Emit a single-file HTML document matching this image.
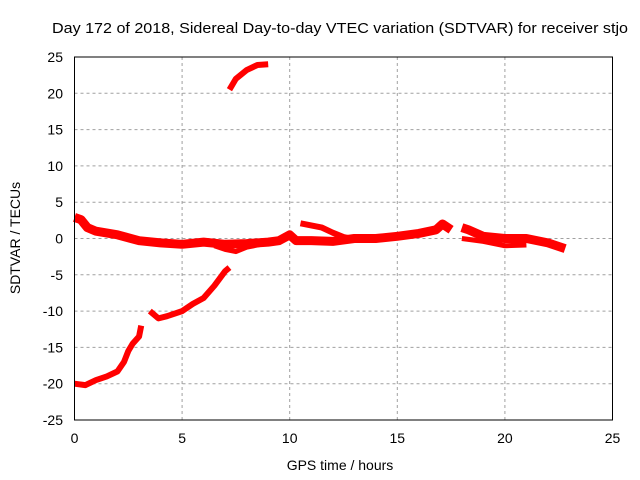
<!DOCTYPE html>
<html><head><meta charset="utf-8"><style>
body{margin:0;background:#fff}
svg{display:block;font-family:"Liberation Sans",sans-serif}
</style></head><body>
<svg id="c" width="640" height="480">
<text x="340" y="33" text-anchor="middle" font-size="15" textLength="576" lengthAdjust="spacingAndGlyphs">Day 172 of 2018, Sidereal Day-to-day VTEC variation (SDTVAR) for receiver stjo</text>
<text x="340" y="470" text-anchor="middle" font-size="14">GPS time / hours</text>
<text transform="translate(20,238) rotate(-90)" text-anchor="middle" font-size="14">SDTVAR / TECUs</text>
<g id="grid"></g><g id="marks"></g><g id="axes"></g>
</svg>
<script>
const xTicks=[0,5,10,15,20,25];
const yTicks=[-25,-20,-15,-10,-5,0,5,10,15,20,25];
const seg1X=[0,0.5,1,1.5,2,2.3,2.5,2.7,3,3.1];
const seg1Y=[-20,-20.2,-19.5,-19,-18.3,-17,-15.5,-14.5,-13.5,-12];
const seg2X=[3.5,3.9,4.3,5,5.5,6,6.5,7,7.2];
const seg2Y=[-10,-11,-10.7,-10,-9,-8.2,-6.5,-4.5,-4];
const seg3X=[7.2,7.5,8,8.5,9];
const seg3Y=[20.5,22,23.2,23.9,24];
const seg4X=[0,0.3,0.6,1,2,3,4,5,6,7,8,9,9.5,10,10.3,11,12,13,14,15,16,16.8,17.1,17.5];
const seg4Y=[2.9,2.6,1.5,1,0.5,-0.3,-0.6,-0.8,-0.5,-0.8,-0.7,-0.5,-0.3,0.5,-0.3,-0.3,-0.4,0,0,0.3,0.7,1.2,2,1.2];
const seg5X=[6.5,7,7.5,8,9];
const seg5Y=[-1,-1.5,-1.8,-1.2,-0.6];
const seg6X=[10.5,11,11.5,12,12.5,13];
const seg6Y=[2.1,1.8,1.5,0.8,0.2,-0.1];
const seg7X=[18,18.3,19,20,21,22,22.8];
const seg7Y=[1.5,1.2,0.3,0,0,-0.6,-1.4];
const seg8X=[18,19,20,21];
const seg8Y=[0,-0.4,-1,-0.9];
const X=v=>74.5+v*(612.5-74.5)/25, Y=v=>238.5-v*7.26;
const NS="http://www.w3.org/2000/svg";
const grid=document.getElementById('grid'),axes=document.getElementById('axes'),marks=document.getElementById('marks');
function mk(tag,at,p){const e=document.createElementNS(NS,tag);for(const k in at)e.setAttribute(k,at[k]);p.appendChild(e);return e;}
xTicks.forEach(t=>{
 if(t>0&&t<25){const g=mk('line',{x1:X(t),x2:X(t),y1:57,y2:420,stroke:'#a0a0a0','stroke-dasharray':'3,3'},grid);
 
 }
 const l=mk('text',{x:X(t),y:443,'text-anchor':'middle','font-size':14},axes);l.textContent=t;
 
 
});
yTicks.forEach(t=>{
 if(t>-25&&t<25){const g=mk('line',{x1:74.5,x2:612.5,y1:Y(t),y2:Y(t),stroke:'#a0a0a0','stroke-dasharray':'3,3'},grid);
 
 }
 const l=mk('text',{x:63,y:Y(t)+5,'text-anchor':'end','font-size':14},axes);l.textContent=t;
 
 
});
const fr=mk('rect',{x:74.5,y:57,width:538,height:363,fill:'none',stroke:'#000','stroke-width':1},axes);


[[seg1X,seg1Y,6],[seg2X,seg2Y,6],[seg3X,seg3Y,6],[seg4X,seg4Y,9],[seg5X,seg5Y,5],[seg6X,seg6Y,6],[seg7X,seg7Y,9],[seg8X,seg8Y,5]].forEach(([xs,ys,w])=>{
 const p=mk('polyline',{points:xs.map((x,i)=>X(x)+','+Y(ys[i])).join(' '),fill:'none',stroke:'#ff0000','stroke-width':w,'stroke-linejoin':'round'},marks);
 
 
});
</script>
</body></html>
